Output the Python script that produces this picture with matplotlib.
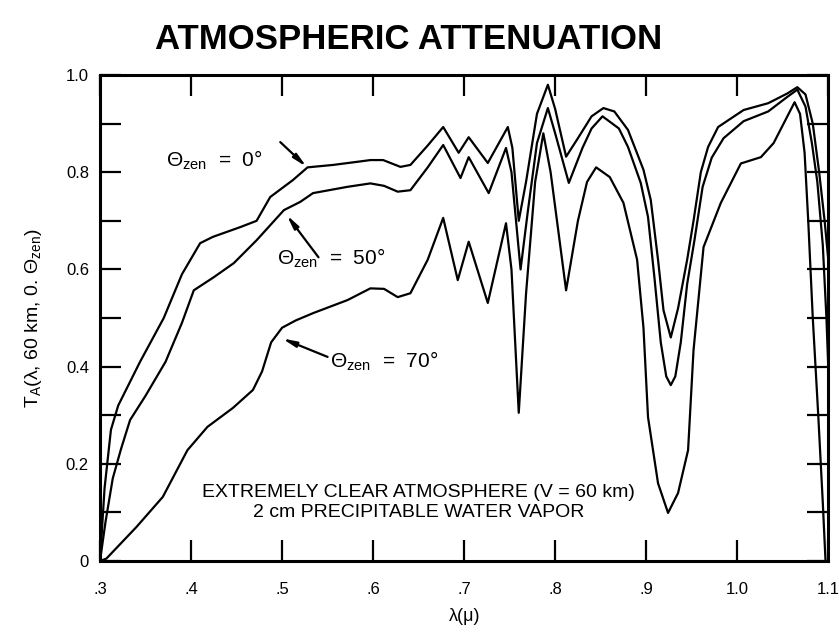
import matplotlib
matplotlib.use('Agg')
from matplotlib import pyplot as plt
import numpy as np

plt.rcParams['font.family'] = ['Liberation Sans', 'DejaVu Sans']
plt.rcParams['mathtext.fontset'] = 'custom'
plt.rcParams['mathtext.rm'] = 'Liberation Sans'
plt.rcParams['mathtext.it'] = 'Liberation Sans:italic'

# wavelength (micron) / transmittance
wl_0 = [0.300, 0.305, 0.312, 0.320, 0.344, 0.370, 0.390, 0.410, 0.424, 0.454, 0.472,
        0.487, 0.512, 0.528, 0.556, 0.585, 0.597, 0.611, 0.630, 0.641, 0.660, 0.677,
        0.694, 0.705, 0.726, 0.748, 0.753, 0.760, 0.768, 0.780, 0.792, 0.800, 0.812,
        0.825, 0.840, 0.853, 0.865, 0.880, 0.897, 0.905, 0.913, 0.919, 0.927, 0.935,
        0.945, 0.952, 0.960, 0.968, 0.979, 1.007, 1.034, 1.055, 1.066, 1.075, 1.083,
        1.090, 1.096, 1.100]
t_0 = [0.00, 0.15, 0.27, 0.32, 0.41, 0.50, 0.59, 0.654, 0.667, 0.687, 0.700,
       0.749, 0.784, 0.810, 0.815, 0.822, 0.825, 0.825, 0.811, 0.815, 0.855, 0.893,
       0.840, 0.872, 0.819, 0.893, 0.850, 0.700, 0.780, 0.920, 0.980, 0.930, 0.832,
       0.870, 0.915, 0.932, 0.925, 0.887, 0.805, 0.743, 0.620, 0.516, 0.460, 0.520,
       0.620, 0.700, 0.800, 0.852, 0.893, 0.928, 0.942, 0.962, 0.975, 0.960, 0.900,
       0.800, 0.700, 0.620]

wl_50 = [0.300, 0.306, 0.314, 0.323, 0.333, 0.350, 0.372, 0.390, 0.403, 0.425, 0.447,
         0.472, 0.502, 0.520, 0.534, 0.572, 0.597, 0.612, 0.627, 0.641, 0.660, 0.677,
         0.696, 0.705, 0.727, 0.746, 0.752, 0.762, 0.770, 0.780, 0.792, 0.800, 0.815,
         0.830, 0.840, 0.852, 0.870, 0.880, 0.894, 0.902, 0.909, 0.916, 0.922, 0.927,
         0.932, 0.938, 0.945, 0.953, 0.962, 0.972, 0.985, 1.007, 1.034, 1.055, 1.066,
         1.075, 1.082, 1.088, 1.094, 1.098, 1.100]
t_50 = [0.00, 0.08, 0.17, 0.23, 0.29, 0.34, 0.41, 0.49, 0.557, 0.584, 0.613,
        0.660, 0.722, 0.739, 0.757, 0.770, 0.777, 0.772, 0.760, 0.763, 0.810, 0.856,
        0.788, 0.831, 0.757, 0.850, 0.800, 0.600, 0.720, 0.860, 0.932, 0.880, 0.778,
        0.850, 0.890, 0.915, 0.890, 0.852, 0.778, 0.708, 0.584, 0.450, 0.380, 0.362,
        0.380, 0.450, 0.570, 0.660, 0.770, 0.830, 0.870, 0.905, 0.925, 0.955, 0.970,
        0.935, 0.860, 0.780, 0.650, 0.500, 0.400]

wl_70 = [0.300, 0.307, 0.340, 0.369, 0.396, 0.418, 0.446, 0.468, 0.478, 0.488, 0.500,
         0.515, 0.534, 0.572, 0.597, 0.612, 0.627, 0.641, 0.660, 0.677, 0.693, 0.705,
         0.726, 0.746, 0.752, 0.760, 0.768, 0.778, 0.787, 0.795, 0.812, 0.825, 0.835,
         0.845, 0.860, 0.875, 0.890, 0.897, 0.902, 0.913, 0.924, 0.935, 0.946, 0.952,
         0.963, 0.982, 1.004, 1.026, 1.040, 1.063, 1.069, 1.074, 1.078, 1.083, 1.089,
         1.094, 1.097]
t_70 = [0.000, 0.005, 0.070, 0.132, 0.228, 0.276, 0.315, 0.352, 0.390, 0.450, 0.480,
        0.495, 0.510, 0.537, 0.561, 0.560, 0.543, 0.551, 0.620, 0.706, 0.578, 0.657,
        0.531, 0.695, 0.600, 0.305, 0.550, 0.780, 0.880, 0.800, 0.557, 0.700, 0.780,
        0.810, 0.790, 0.737, 0.620, 0.480, 0.296, 0.160, 0.099, 0.140, 0.228, 0.434,
        0.646, 0.737, 0.818, 0.831, 0.860, 0.944, 0.920, 0.840, 0.700, 0.500, 0.300,
        0.120, 0.000]

x_ticks = [0.3, 0.4, 0.5, 0.6, 0.7, 0.8, 0.9, 1.0, 1.1]
x_labels = ['.3', '.4', '.5', '.6', '.7', '.8', '.9', '1.0', '1.1']
y_ticks = [0, 0.2, 0.4, 0.6, 0.8, 1.0]
y_labels = ['0', '0.2', '0.4', '0.6', '0.8', '1.0']

fig = plt.figure(figsize=(8.39, 6.32), dpi=100)
ax = fig.add_axes([0.1192, 0.1123, 0.868, 0.769])

for wl, t in [(wl_0, t_0), (wl_50, t_50), (wl_70, t_70)]:
    ax.plot(wl, t, color='black', lw=1.6, solid_joinstyle='round')

ax.set_xlim(0.3, 1.1)
ax.set_ylim(0, 1.0)
ax.set_xticks(x_ticks)
ax.set_xticklabels(x_labels, fontsize=12)
ax.set_yticks(y_ticks)
ax.set_yticklabels(y_labels, fontsize=12)
ax.set_yticks(np.arange(0.1, 1.0, 0.2), minor=True)
ax.tick_params(which='both', direction='in', length=15, width=1.6,
               top=True, right=True, pad=8)
ax.tick_params(axis='x', which='major', pad=15)
ax.tick_params(axis='x', which='minor', bottom=False, top=False)
for s in ax.spines.values():
    s.set_linewidth(2.2)

fig.text(0.487, 0.938, 'ATMOSPHERIC ATTENUATION', fontsize=25, fontweight='bold',
         ha='center', va='center')
ax.set_xlabel('λ(μ)', fontsize=13, labelpad=8)
ax.set_ylabel('T$_\\mathrm{A}$(λ, 60 km, 0. $\\Theta_{\\mathrm{zen}}$)', fontsize=14,
              labelpad=16)

ax.text(0.372, 0.825, '$\\Theta_{\\mathrm{zen}}$  =  0°', fontsize=15, va='center')
ax.text(0.494, 0.623, '$\\Theta_{\\mathrm{zen}}$  =  50°', fontsize=15, va='center')
ax.text(0.553, 0.41, '$\\Theta_{\\mathrm{zen}}$  =  70°', fontsize=15, va='center')

aprops = dict(arrowstyle='-|>,head_width=0.16,head_length=0.8', color='black', lw=1.6,
              shrinkA=0, shrinkB=0)
ax.annotate('', xy=(0.527, 0.811), xytext=(0.498, 0.862), arrowprops=aprops)
ax.annotate('', xy=(0.505, 0.712), xytext=(0.540, 0.625), arrowprops=aprops)
ax.annotate('', xy=(0.500, 0.458), xytext=(0.550, 0.420), arrowprops=aprops)

ax.text(0.65, 0.14, 'EXTREMELY CLEAR ATMOSPHERE (V = 60 km)', fontsize=14,
        ha='center', va='center')
ax.text(0.65, 0.10, '2 cm PRECIPITABLE WATER VAPOR', fontsize=14,
        ha='center', va='center')

fig.savefig('out.png', dpi=100)
